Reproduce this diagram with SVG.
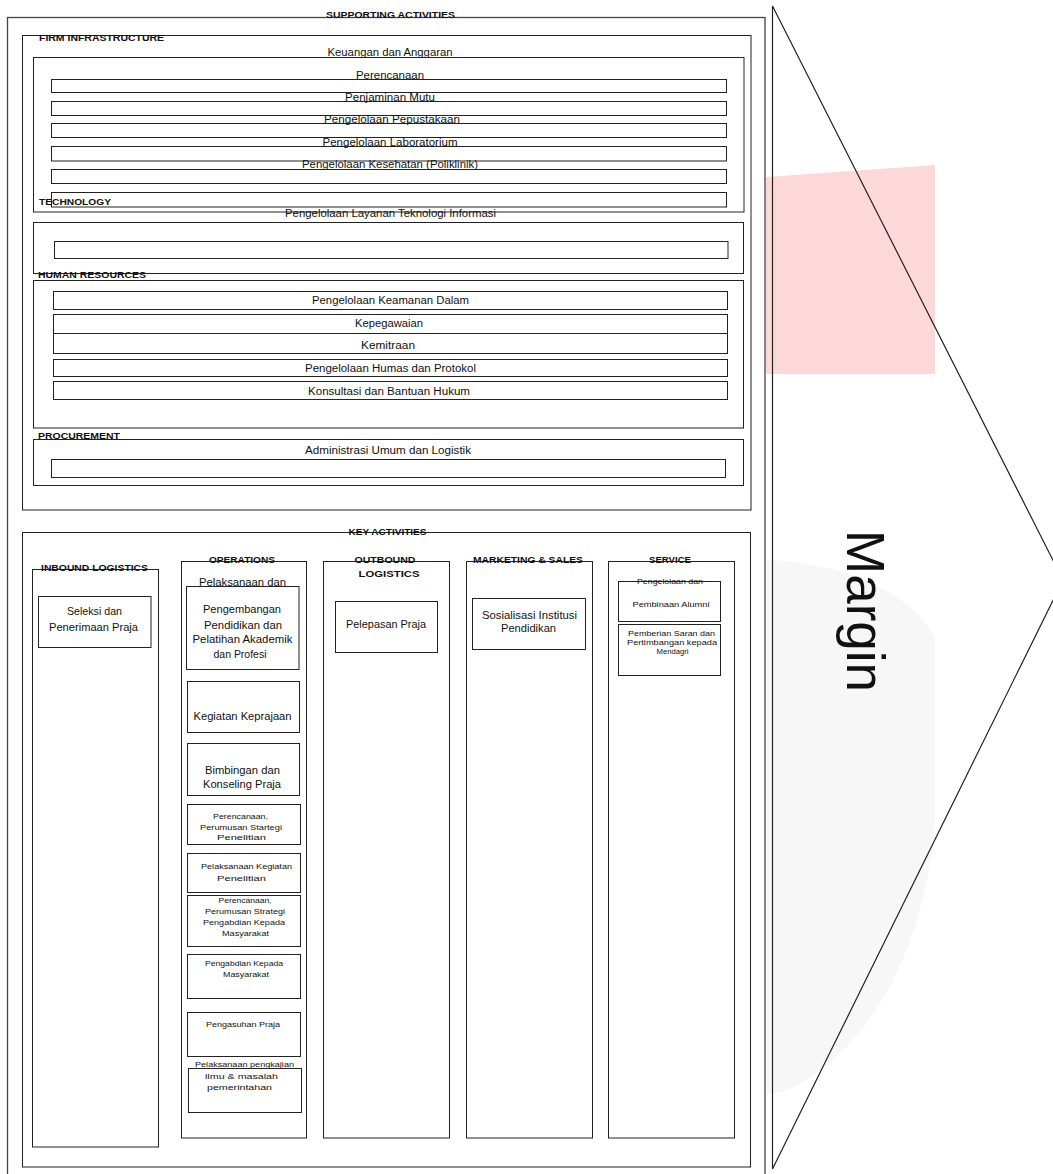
<svg xmlns="http://www.w3.org/2000/svg" width="1053" height="1174" viewBox="0 0 1053 1174">
<style>
  rect.b { fill: none; stroke: #222; stroke-width: 1; }
  text { font-family: "Liberation Sans", Arial, sans-serif; fill: #111; }
  .h { font-size: 8.5px; font-weight: bold; }
  .t { font-size: 10px; }
  .m { font-size: 10.5px; }
  .s { font-size: 8px; }
  .xs { font-size: 7.5px; }
  .c { text-anchor: middle; }
</style>
<rect width="1053" height="1174" fill="#fff"/>
<g id="watermark">
  <polygon points="766,177 935,165 935,374 766,374" fill="#fdd8d8"/>
  <path d="M766,560 C850,562 920,600 935,640 L935,820 C925,960 860,1060 783,1092 L766,1094 Z" fill="#f7f7f7"/>
</g>
<g id="connectors"></g>
<g id="frame">
  <rect class="b" x="7.5" y="17.5" width="757.5" height="1170" style="fill:#fff;stroke:#444;stroke-width:1.3"/>
  <text class="h c" x="390.5" y="18" textLength="129" lengthAdjust="spacingAndGlyphs">SUPPORTING ACTIVITIES</text>
</g>
<g id="supporting">
  <rect class="b" x="22.5" y="35.5" width="728.5" height="474.5"/>
  <text class="h" x="39" y="40.5" textLength="125" lengthAdjust="spacingAndGlyphs">FIRM INFRASTRUCTURE</text>
</g>
<g id="firm-infrastructure">
  <rect class="b" x="33.5" y="57.5" width="710.5" height="154.5"/>
  <text class="t c" x="390" y="56" textLength="125" lengthAdjust="spacingAndGlyphs">Keuangan dan Anggaran</text>
  <g id="perencanaan"><rect class="b" x="51.5" y="79.5" width="675" height="13"/><text class="t c" x="390" y="78.5" textLength="68" lengthAdjust="spacingAndGlyphs">Perencanaan</text></g>
  <g id="penjaminan-mutu"><rect class="b" x="51.5" y="101.5" width="675" height="14"/><text class="t c" x="390" y="101" textLength="90" lengthAdjust="spacingAndGlyphs">Penjaminan Mutu</text></g>
  <g id="pepustakaan"><rect class="b" x="51.5" y="123.5" width="675" height="14"/><text class="t c" x="392" y="123" textLength="136" lengthAdjust="spacingAndGlyphs">Pengelolaan Pepustakaan</text></g>
  <g id="laboratorium"><rect class="b" x="51.5" y="146.5" width="675" height="14.5"/><text class="t c" x="390" y="146" textLength="135" lengthAdjust="spacingAndGlyphs">Pengelolaan Laboratorium</text></g>
  <g id="kesehatan"><rect class="b" x="51.5" y="169.5" width="675" height="14"/><text class="t c" x="390" y="168" textLength="176" lengthAdjust="spacingAndGlyphs">Pengelolaan Kesehatan (Poliklinik)</text></g>
  <rect class="b" x="51.5" y="192.5" width="675" height="14.5"/>
</g>
<g id="technology">
  <text class="h" x="39" y="204.5" textLength="72" lengthAdjust="spacingAndGlyphs">TECHNOLOGY</text>
  <rect class="b" x="33.5" y="222.5" width="710" height="51"/>
  <text class="t c" x="390.5" y="216.5" textLength="211" lengthAdjust="spacingAndGlyphs">Pengelolaan Layanan Teknologi Informasi</text>
  <rect class="b" x="54.5" y="241.5" width="673.5" height="17"/>
</g>
<g id="human-resources">
  <text class="h" x="38" y="278" textLength="108" lengthAdjust="spacingAndGlyphs">HUMAN RESOURCES</text>
  <rect class="b" x="33.5" y="280.5" width="710" height="147.5"/>
  <g id="keamanan"><rect class="b" x="53.5" y="291.5" width="674" height="18"/><text class="t c" x="390.5" y="303.5" textLength="157" lengthAdjust="spacingAndGlyphs">Pengelolaan Keamanan Dalam</text></g>
  <g id="kepegawaian"><rect class="b" x="53.5" y="314.5" width="674" height="19"/><text class="t c" x="389" y="326.5" textLength="68" lengthAdjust="spacingAndGlyphs">Kepegawaian</text></g>
  <g id="kemitraan"><rect class="b" x="53.5" y="333.5" width="674" height="20"/><text class="t c" x="388" y="348.5" textLength="54" lengthAdjust="spacingAndGlyphs">Kemitraan</text></g>
  <g id="humas"><rect class="b" x="53.5" y="359.5" width="674" height="17"/><text class="t c" x="390.5" y="371.5" textLength="171" lengthAdjust="spacingAndGlyphs">Pengelolaan Humas dan Protokol</text></g>
  <g id="hukum"><rect class="b" x="53.5" y="381.5" width="674" height="18"/><text class="t c" x="389" y="395" textLength="162" lengthAdjust="spacingAndGlyphs">Konsultasi dan Bantuan Hukum</text></g>
</g>
<g id="procurement">
  <text class="h" x="38" y="439" textLength="82" lengthAdjust="spacingAndGlyphs">PROCUREMENT</text>
  <rect class="b" x="33.5" y="439.5" width="710" height="46"/>
  <text class="t c" x="388" y="454" textLength="166" lengthAdjust="spacingAndGlyphs">Administrasi Umum dan Logistik</text>
  <rect class="b" x="51.5" y="459.5" width="674" height="18"/>
</g>
<g id="key-activities">
  <rect class="b" x="22.5" y="532.5" width="728" height="634.5"/>
  <text class="h c" x="387.5" y="534.5" textLength="78" lengthAdjust="spacingAndGlyphs">KEY ACTIVITIES</text>
</g>
<g id="inbound-logistics">
  <rect class="b" x="32.5" y="569.5" width="126" height="577.5"/>
  <text class="h c" x="94.5" y="570.5" textLength="107" lengthAdjust="spacingAndGlyphs">INBOUND LOGISTICS</text>
  <g id="seleksi">
    <rect class="b" x="38.5" y="596.5" width="112.5" height="51"/>
    <text class="m c" x="94.5" y="615" textLength="55" lengthAdjust="spacingAndGlyphs">Seleksi dan</text>
    <text class="m c" x="93.5" y="631" textLength="89" lengthAdjust="spacingAndGlyphs">Penerimaan Praja</text>
  </g>
</g>
<g id="operations">
  <rect class="b" x="181.5" y="561.5" width="125" height="576.5"/>
  <text class="h c" x="242" y="562.5" textLength="66" lengthAdjust="spacingAndGlyphs">OPERATIONS</text>
  <g id="op-pendidikan">
    <text class="m c" x="242.5" y="586" textLength="87" lengthAdjust="spacingAndGlyphs">Pelaksanaan dan</text>
    <rect class="b" x="186.5" y="586.5" width="112.5" height="83"/>
    <text class="m c" x="242" y="613" textLength="78" lengthAdjust="spacingAndGlyphs">Pengembangan</text>
    <text class="m c" x="243" y="629" textLength="78" lengthAdjust="spacingAndGlyphs">Pendidikan dan</text>
    <text class="m c" x="242.5" y="643" textLength="100" lengthAdjust="spacingAndGlyphs">Pelatihan Akademik</text>
    <text class="m c" x="240" y="658" textLength="53" lengthAdjust="spacingAndGlyphs">dan Profesi</text>
  </g>
  <g id="op-keprajaan">
    <rect class="b" x="187.5" y="681.5" width="112" height="51"/>
    <text class="m c" x="242.5" y="720" textLength="98" lengthAdjust="spacingAndGlyphs">Kegiatan Keprajaan</text>
  </g>
  <g id="op-bimbingan">
    <rect class="b" x="187.5" y="743.5" width="112" height="52"/>
    <text class="m c" x="242.5" y="774" textLength="75" lengthAdjust="spacingAndGlyphs">Bimbingan dan</text>
    <text class="m c" x="242" y="788" textLength="78" lengthAdjust="spacingAndGlyphs">Konseling Praja</text>
  </g>
  <g id="op-perencanaan-penelitian">
    <rect class="b" x="187.5" y="804.5" width="113" height="40"/>
    <text class="s c" x="240.5" y="819" textLength="55" lengthAdjust="spacingAndGlyphs">Perencanaan,</text>
    <text class="s c" x="241" y="829.5" textLength="82" lengthAdjust="spacingAndGlyphs">Perumusan Startegi</text>
    <text class="s c" x="241.5" y="840" textLength="49" lengthAdjust="spacingAndGlyphs">Penelitian</text>
  </g>
  <g id="op-penelitian">
    <rect class="b" x="187.5" y="853.5" width="113" height="39"/>
    <text class="s c" x="246.5" y="868.5" textLength="91" lengthAdjust="spacingAndGlyphs">Pelaksanaan Kegiatan</text>
    <text class="s c" x="241.5" y="881" textLength="49" lengthAdjust="spacingAndGlyphs">Penelitian</text>
  </g>
  <g id="op-perencanaan-pengabdian">
    <rect class="b" x="187.5" y="895.5" width="113" height="51"/>
    <text class="s c" x="245" y="903" textLength="53" lengthAdjust="spacingAndGlyphs">Perencanaan,</text>
    <text class="s c" x="245" y="913.5" textLength="80" lengthAdjust="spacingAndGlyphs">Perumusan Strategi</text>
    <text class="s c" x="244" y="924.5" textLength="82" lengthAdjust="spacingAndGlyphs">Pengabdian Kepada</text>
    <text class="s c" x="245.5" y="935.5" textLength="47" lengthAdjust="spacingAndGlyphs">Masyarakat</text>
  </g>
  <g id="op-pengabdian">
    <rect class="b" x="187.5" y="954.5" width="113" height="44"/>
    <text class="s c" x="244" y="965.5" textLength="78" lengthAdjust="spacingAndGlyphs">Pengabdian Kepada</text>
    <text class="s c" x="246" y="976.5" textLength="46" lengthAdjust="spacingAndGlyphs">Masyarakat</text>
  </g>
  <g id="op-pengasuhan">
    <rect class="b" x="187.5" y="1012.5" width="113" height="44"/>
    <text class="s c" x="243" y="1026.5" textLength="74" lengthAdjust="spacingAndGlyphs">Pengasuhan Praja</text>
  </g>
  <g id="op-pengkajian">
    <text class="s c" x="244.5" y="1067" textLength="99" lengthAdjust="spacingAndGlyphs">Pelaksanaan pengkajian</text>
    <rect class="b" x="188.5" y="1068.5" width="113" height="44"/>
    <text class="s c" x="241.5" y="1078.5" textLength="73" lengthAdjust="spacingAndGlyphs">ilmu &amp; masalah</text>
    <text class="s c" x="239.5" y="1089.5" textLength="65" lengthAdjust="spacingAndGlyphs">pemerintahan</text>
  </g>
</g>
<g id="outbound-logistics">
  <rect class="b" x="323.5" y="561.5" width="126" height="576.5"/>
  <text class="h c" x="385" y="562.5" textLength="61" lengthAdjust="spacingAndGlyphs">OUTBOUND</text>
  <text class="h c" x="389" y="576.5" textLength="61" lengthAdjust="spacingAndGlyphs">LOGISTICS</text>
  <g id="pelepasan">
    <rect class="b" x="335.5" y="601.5" width="102" height="51"/>
    <text class="m c" x="386" y="628" textLength="80" lengthAdjust="spacingAndGlyphs">Pelepasan Praja</text>
  </g>
</g>
<g id="marketing-sales">
  <rect class="b" x="466.5" y="561.5" width="126" height="576.5"/>
  <text class="h c" x="528" y="562.5" textLength="110" lengthAdjust="spacingAndGlyphs">MARKETING &amp; SALES</text>
  <g id="sosialisasi">
    <rect class="b" x="472.5" y="598.5" width="113" height="51"/>
    <text class="m c" x="529.5" y="619" textLength="95" lengthAdjust="spacingAndGlyphs">Sosialisasi Institusi</text>
    <text class="m c" x="528.5" y="632" textLength="55" lengthAdjust="spacingAndGlyphs">Pendidikan</text>
  </g>
</g>
<g id="service">
  <rect class="b" x="608.5" y="561.5" width="126" height="576.5"/>
  <text class="h c" x="670" y="562.5" textLength="42" lengthAdjust="spacingAndGlyphs">SERVICE</text>
  <g id="alumni">
    <rect class="b" x="618.5" y="581.5" width="102" height="40"/>
    <text class="xs c" x="670" y="583.5" textLength="66" lengthAdjust="spacingAndGlyphs">Pengelolaan dan</text>
    <text class="s c" x="671" y="607" textLength="77" lengthAdjust="spacingAndGlyphs">Pembinaan Alumni</text>
  </g>
  <g id="saran">
    <rect class="b" x="618.5" y="624.5" width="102" height="51"/>
    <text class="s c" x="671.5" y="636" textLength="87" lengthAdjust="spacingAndGlyphs">Pemberian Saran dan</text>
    <text class="s c" x="672" y="645" textLength="90" lengthAdjust="spacingAndGlyphs">Pertimbangan kepada</text>
    <text class="s c" x="672.5" y="654" textLength="32" lengthAdjust="spacingAndGlyphs">Mendagri</text>
  </g>
</g>
<g id="margin">
  <polygon points="772.5,6 1063,580 772.5,1169" fill="none" stroke="#222" stroke-width="1.2"/>
  <text transform="translate(847,611) rotate(90)" text-anchor="middle" font-size="53" style="font-family:'Liberation Sans',Arial,sans-serif" fill="#000">Margin</text>
</g>
</svg>
